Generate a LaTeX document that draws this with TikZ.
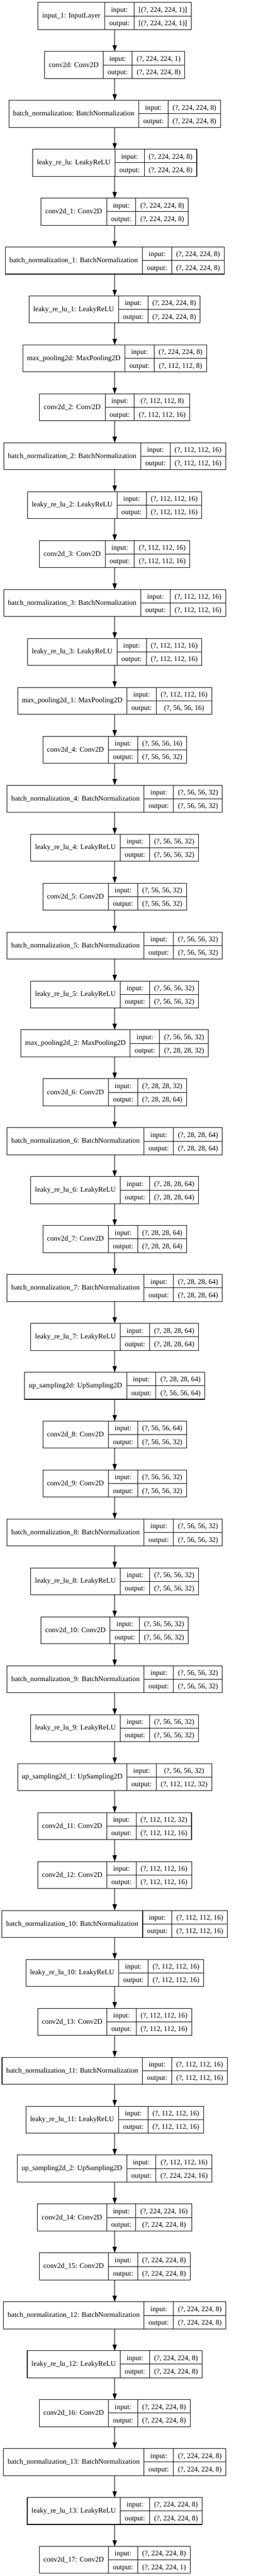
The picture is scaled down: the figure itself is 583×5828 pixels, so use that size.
\documentclass[tikz,border=0pt]{standalone}
\usepackage{fontspec}
\setmainfont{Liberation Serif}
\usetikzlibrary{shapes, positioning, arrows.meta}
\tikzset{
  layer/.style={
    rectangle split,
    rectangle split horizontal,
    rectangle split parts=3,
    rectangle split draw splits=true,
    draw=black, line width=1.2pt,
    inner xsep=9.6pt, inner ysep=0pt, outer sep=0pt,
    font=\fontsize{16.2}{30.5}\selectfont,
    append after command={
      (\tikzlastnode.one split) edge[draw=black, line width=1.2pt, -] (\tikzlastnode.east)
    }
  },
  arrow/.style={
    draw=black,
    line width=1.2pt,
    -{Triangle[length=14pt, width=9.7pt]}
  }
}
\newcommand\ioports{\begin{tabular}{@{}c@{}}input:\\output:\end{tabular}}
\newcommand\ioshape[2]{\begin{tabular}{@{}c@{}}#1\\\relax #2\end{tabular}}

\begin{document}
\begin{tikzpicture}[node distance=49.68pt]
\useasboundingbox (0,0) rectangle (583pt,-5828pt);
% nodes
%% encoder, 224
\node[layer] at (259.6pt,-36.2pt) (inp)
{ input\_1: InputLayer
  \nodepart{second} \ioports
  \nodepart{third} \ioshape{[(?, 224, 224, 1)]}{[(?, 224, 224, 1)]}
};
\node[layer, below=of inp] (c0)
{ conv2d: Conv2D
  \nodepart{second} \ioports
  \nodepart{third} \ioshape{(?, 224, 224, 1)}{(?, 224, 224, 8)}
};
\node[layer, below=of c0] (bn0)
{ batch\_normalization: BatchNormalization
  \nodepart{second} \ioports
  \nodepart{third} \ioshape{(?, 224, 224, 8)}{(?, 224, 224, 8)}
};
\node[layer, below=of bn0] (lr0)
{ leaky\_re\_lu: LeakyReLU
  \nodepart{second} \ioports
  \nodepart{third} \ioshape{(?, 224, 224, 8)}{(?, 224, 224, 8)}
};
\node[layer, below=of lr0] (c1)
{ conv2d\_1: Conv2D
  \nodepart{second} \ioports
  \nodepart{third} \ioshape{(?, 224, 224, 8)}{(?, 224, 224, 8)}
};
\node[layer, below=of c1] (bn1)
{ batch\_normalization\_1: BatchNormalization
  \nodepart{second} \ioports
  \nodepart{third} \ioshape{(?, 224, 224, 8)}{(?, 224, 224, 8)}
};
\node[layer, below=of bn1] (lr1)
{ leaky\_re\_lu\_1: LeakyReLU
  \nodepart{second} \ioports
  \nodepart{third} \ioshape{(?, 224, 224, 8)}{(?, 224, 224, 8)}
};
\node[layer, below=of lr1] (mp0)
{ max\_pooling2d: MaxPooling2D
  \nodepart{second} \ioports
  \nodepart{third} \ioshape{(?, 224, 224, 8)}{(?, 112, 112, 8)}
};

%% encoder, 112
\node[layer, below=of mp0] (c2)
{ conv2d\_2: Conv2D
  \nodepart{second} \ioports
  \nodepart{third} \ioshape{(?, 112, 112, 8)}{(?, 112, 112, 16)}
};
\node[layer, below=of c2] (bn2)
{ batch\_normalization\_2: BatchNormalization
  \nodepart{second} \ioports
  \nodepart{third} \ioshape{(?, 112, 112, 16)}{(?, 112, 112, 16)}
};
\node[layer, below=of bn2] (lr2)
{ leaky\_re\_lu\_2: LeakyReLU
  \nodepart{second} \ioports
  \nodepart{third} \ioshape{(?, 112, 112, 16)}{(?, 112, 112, 16)}
};
\node[layer, below=of lr2] (c3)
{ conv2d\_3: Conv2D
  \nodepart{second} \ioports
  \nodepart{third} \ioshape{(?, 112, 112, 16)}{(?, 112, 112, 16)}
};
\node[layer, below=of c3] (bn3)
{ batch\_normalization\_3: BatchNormalization
  \nodepart{second} \ioports
  \nodepart{third} \ioshape{(?, 112, 112, 16)}{(?, 112, 112, 16)}
};
\node[layer, below=of bn3] (lr3)
{ leaky\_re\_lu\_3: LeakyReLU
  \nodepart{second} \ioports
  \nodepart{third} \ioshape{(?, 112, 112, 16)}{(?, 112, 112, 16)}
};
\node[layer, below=of lr3] (mp1)
{ max\_pooling2d\_1: MaxPooling2D
  \nodepart{second} \ioports
  \nodepart{third} \ioshape{(?, 112, 112, 16)}{(?, 56, 56, 16)}
};

%% encoder, 56
\node[layer, below=of mp1] (c4)
{ conv2d\_4: Conv2D
  \nodepart{second} \ioports
  \nodepart{third} \ioshape{(?, 56, 56, 16)}{(?, 56, 56, 32)}
};
\node[layer, below=of c4] (bn4)
{ batch\_normalization\_4: BatchNormalization
  \nodepart{second} \ioports
  \nodepart{third} \ioshape{(?, 56, 56, 32)}{(?, 56, 56, 32)}
};
\node[layer, below=of bn4] (lr4)
{ leaky\_re\_lu\_4: LeakyReLU
  \nodepart{second} \ioports
  \nodepart{third} \ioshape{(?, 56, 56, 32)}{(?, 56, 56, 32)}
};
\node[layer, below=of lr4] (c5)
{ conv2d\_5: Conv2D
  \nodepart{second} \ioports
  \nodepart{third} \ioshape{(?, 56, 56, 32)}{(?, 56, 56, 32)}
};
\node[layer, below=of c5] (bn5)
{ batch\_normalization\_5: BatchNormalization
  \nodepart{second} \ioports
  \nodepart{third} \ioshape{(?, 56, 56, 32)}{(?, 56, 56, 32)}
};
\node[layer, below=of bn5] (lr5)
{ leaky\_re\_lu\_5: LeakyReLU
  \nodepart{second} \ioports
  \nodepart{third} \ioshape{(?, 56, 56, 32)}{(?, 56, 56, 32)}
};
\node[layer, below=of lr5] (mp2)
{ max\_pooling2d\_2: MaxPooling2D
  \nodepart{second} \ioports
  \nodepart{third} \ioshape{(?, 56, 56, 32)}{(?, 28, 28, 32)}
};

%% bottleneck, 28
\node[layer, below=of mp2] (c6)
{ conv2d\_6: Conv2D
  \nodepart{second} \ioports
  \nodepart{third} \ioshape{(?, 28, 28, 32)}{(?, 28, 28, 64)}
};
\node[layer, below=of c6] (bn6)
{ batch\_normalization\_6: BatchNormalization
  \nodepart{second} \ioports
  \nodepart{third} \ioshape{(?, 28, 28, 64)}{(?, 28, 28, 64)}
};
\node[layer, below=of bn6] (lr6)
{ leaky\_re\_lu\_6: LeakyReLU
  \nodepart{second} \ioports
  \nodepart{third} \ioshape{(?, 28, 28, 64)}{(?, 28, 28, 64)}
};
\node[layer, below=of lr6] (c7)
{ conv2d\_7: Conv2D
  \nodepart{second} \ioports
  \nodepart{third} \ioshape{(?, 28, 28, 64)}{(?, 28, 28, 64)}
};
\node[layer, below=of c7] (bn7)
{ batch\_normalization\_7: BatchNormalization
  \nodepart{second} \ioports
  \nodepart{third} \ioshape{(?, 28, 28, 64)}{(?, 28, 28, 64)}
};
\node[layer, below=of bn7] (lr7)
{ leaky\_re\_lu\_7: LeakyReLU
  \nodepart{second} \ioports
  \nodepart{third} \ioshape{(?, 28, 28, 64)}{(?, 28, 28, 64)}
};
\node[layer, below=of lr7] (up0)
{ up\_sampling2d: UpSampling2D
  \nodepart{second} \ioports
  \nodepart{third} \ioshape{(?, 28, 28, 64)}{(?, 56, 56, 64)}
};

%% decoder, 56
\node[layer, below=of up0] (c8)
{ conv2d\_8: Conv2D
  \nodepart{second} \ioports
  \nodepart{third} \ioshape{(?, 56, 56, 64)}{(?, 56, 56, 32)}
};
\node[layer, below=of c8] (c9)
{ conv2d\_9: Conv2D
  \nodepart{second} \ioports
  \nodepart{third} \ioshape{(?, 56, 56, 32)}{(?, 56, 56, 32)}
};
\node[layer, below=of c9] (bn8)
{ batch\_normalization\_8: BatchNormalization
  \nodepart{second} \ioports
  \nodepart{third} \ioshape{(?, 56, 56, 32)}{(?, 56, 56, 32)}
};
\node[layer, below=of bn8] (lr8)
{ leaky\_re\_lu\_8: LeakyReLU
  \nodepart{second} \ioports
  \nodepart{third} \ioshape{(?, 56, 56, 32)}{(?, 56, 56, 32)}
};
\node[layer, below=of lr8] (c10)
{ conv2d\_10: Conv2D
  \nodepart{second} \ioports
  \nodepart{third} \ioshape{(?, 56, 56, 32)}{(?, 56, 56, 32)}
};
\node[layer, below=of c10] (bn9)
{ batch\_normalization\_9: BatchNormalization
  \nodepart{second} \ioports
  \nodepart{third} \ioshape{(?, 56, 56, 32)}{(?, 56, 56, 32)}
};
\node[layer, below=of bn9] (lr9)
{ leaky\_re\_lu\_9: LeakyReLU
  \nodepart{second} \ioports
  \nodepart{third} \ioshape{(?, 56, 56, 32)}{(?, 56, 56, 32)}
};
\node[layer, below=of lr9] (up1)
{ up\_sampling2d\_1: UpSampling2D
  \nodepart{second} \ioports
  \nodepart{third} \ioshape{(?, 56, 56, 32)}{(?, 112, 112, 32)}
};

%% decoder, 112
\node[layer, below=of up1] (c11)
{ conv2d\_11: Conv2D
  \nodepart{second} \ioports
  \nodepart{third} \ioshape{(?, 112, 112, 32)}{(?, 112, 112, 16)}
};
\node[layer, below=of c11] (c12)
{ conv2d\_12: Conv2D
  \nodepart{second} \ioports
  \nodepart{third} \ioshape{(?, 112, 112, 16)}{(?, 112, 112, 16)}
};
\node[layer, below=of c12] (bn10)
{ batch\_normalization\_10: BatchNormalization
  \nodepart{second} \ioports
  \nodepart{third} \ioshape{(?, 112, 112, 16)}{(?, 112, 112, 16)}
};
\node[layer, below=of bn10] (lr10)
{ leaky\_re\_lu\_10: LeakyReLU
  \nodepart{second} \ioports
  \nodepart{third} \ioshape{(?, 112, 112, 16)}{(?, 112, 112, 16)}
};
\node[layer, below=of lr10] (c13)
{ conv2d\_13: Conv2D
  \nodepart{second} \ioports
  \nodepart{third} \ioshape{(?, 112, 112, 16)}{(?, 112, 112, 16)}
};
\node[layer, below=of c13] (bn11)
{ batch\_normalization\_11: BatchNormalization
  \nodepart{second} \ioports
  \nodepart{third} \ioshape{(?, 112, 112, 16)}{(?, 112, 112, 16)}
};
\node[layer, below=of bn11] (lr11)
{ leaky\_re\_lu\_11: LeakyReLU
  \nodepart{second} \ioports
  \nodepart{third} \ioshape{(?, 112, 112, 16)}{(?, 112, 112, 16)}
};
\node[layer, below=of lr11] (up2)
{ up\_sampling2d\_2: UpSampling2D
  \nodepart{second} \ioports
  \nodepart{third} \ioshape{(?, 112, 112, 16)}{(?, 224, 224, 16)}
};

%% decoder, 224
\node[layer, below=of up2] (c14)
{ conv2d\_14: Conv2D
  \nodepart{second} \ioports
  \nodepart{third} \ioshape{(?, 224, 224, 16)}{(?, 224, 224, 8)}
};
\node[layer, below=of c14] (c15)
{ conv2d\_15: Conv2D
  \nodepart{second} \ioports
  \nodepart{third} \ioshape{(?, 224, 224, 8)}{(?, 224, 224, 8)}
};
\node[layer, below=of c15] (bn12)
{ batch\_normalization\_12: BatchNormalization
  \nodepart{second} \ioports
  \nodepart{third} \ioshape{(?, 224, 224, 8)}{(?, 224, 224, 8)}
};
\node[layer, below=of bn12] (lr12)
{ leaky\_re\_lu\_12: LeakyReLU
  \nodepart{second} \ioports
  \nodepart{third} \ioshape{(?, 224, 224, 8)}{(?, 224, 224, 8)}
};
\node[layer, below=of lr12] (c16)
{ conv2d\_16: Conv2D
  \nodepart{second} \ioports
  \nodepart{third} \ioshape{(?, 224, 224, 8)}{(?, 224, 224, 8)}
};
\node[layer, below=of c16] (bn13)
{ batch\_normalization\_13: BatchNormalization
  \nodepart{second} \ioports
  \nodepart{third} \ioshape{(?, 224, 224, 8)}{(?, 224, 224, 8)}
};
\node[layer, below=of bn13] (lr13)
{ leaky\_re\_lu\_13: LeakyReLU
  \nodepart{second} \ioports
  \nodepart{third} \ioshape{(?, 224, 224, 8)}{(?, 224, 224, 8)}
};
\node[layer, below=of lr13] (c17)
{ conv2d\_17: Conv2D
  \nodepart{second} \ioports
  \nodepart{third} \ioshape{(?, 224, 224, 8)}{(?, 224, 224, 1)}
};

% edges
%% encoder
\draw [arrow] (inp) -- (c0);
\draw [arrow] (c0) -- (bn0);
\draw [arrow] (bn0) -- (lr0);
\draw [arrow] (lr0) -- (c1);
\draw [arrow] (c1) -- (bn1);
\draw [arrow] (bn1) -- (lr1);
\draw [arrow] (lr1) -- (mp0);
\draw [arrow] (mp0) -- (c2);
\draw [arrow] (c2) -- (bn2);
\draw [arrow] (bn2) -- (lr2);
\draw [arrow] (lr2) -- (c3);
\draw [arrow] (c3) -- (bn3);
\draw [arrow] (bn3) -- (lr3);
\draw [arrow] (lr3) -- (mp1);
\draw [arrow] (mp1) -- (c4);
\draw [arrow] (c4) -- (bn4);
\draw [arrow] (bn4) -- (lr4);
\draw [arrow] (lr4) -- (c5);
\draw [arrow] (c5) -- (bn5);
\draw [arrow] (bn5) -- (lr5);
\draw [arrow] (lr5) -- (mp2);

%% bottleneck
\draw [arrow] (mp2) -- (c6);
\draw [arrow] (c6) -- (bn6);
\draw [arrow] (bn6) -- (lr6);
\draw [arrow] (lr6) -- (c7);
\draw [arrow] (c7) -- (bn7);
\draw [arrow] (bn7) -- (lr7);
\draw [arrow] (lr7) -- (up0);

%% decoder
\draw [arrow] (up0) -- (c8);
\draw [arrow] (c8) -- (c9);
\draw [arrow] (c9) -- (bn8);
\draw [arrow] (bn8) -- (lr8);
\draw [arrow] (lr8) -- (c10);
\draw [arrow] (c10) -- (bn9);
\draw [arrow] (bn9) -- (lr9);
\draw [arrow] (lr9) -- (up1);
\draw [arrow] (up1) -- (c11);
\draw [arrow] (c11) -- (c12);
\draw [arrow] (c12) -- (bn10);
\draw [arrow] (bn10) -- (lr10);
\draw [arrow] (lr10) -- (c13);
\draw [arrow] (c13) -- (bn11);
\draw [arrow] (bn11) -- (lr11);
\draw [arrow] (lr11) -- (up2);
\draw [arrow] (up2) -- (c14);
\draw [arrow] (c14) -- (c15);
\draw [arrow] (c15) -- (bn12);
\draw [arrow] (bn12) -- (lr12);
\draw [arrow] (lr12) -- (c16);
\draw [arrow] (c16) -- (bn13);
\draw [arrow] (bn13) -- (lr13);
\draw [arrow] (lr13) -- (c17);

\end{tikzpicture}
\end{document}
